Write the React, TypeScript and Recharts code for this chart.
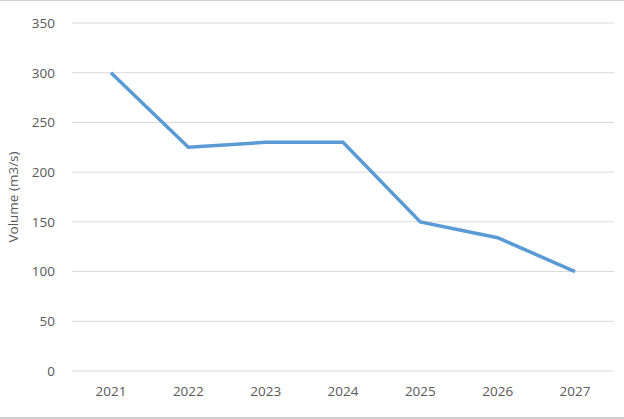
import React from "react";
import { LineChart, Line, XAxis, YAxis, CartesianGrid } from "recharts";

const years = ["2021", "2022", "2023", "2024", "2025", "2026", "2027"];
const volumes = [300, 225, 230, 230, 150, 134, 100];
const yTicks = [0, 50, 100, 150, 200, 250, 300, 350];

const data = years.map((y, i) => ({ year: y, volume: volumes[i] }));

const font = "'Open Sans', 'Noto Sans', sans-serif";
const textColor = "#595959";

export default function App() {
  return (
    <div
      style={{
        position: "absolute",
        left: 0,
        top: 0,
        width: 624,
        height: 419,
        background: "#fff",
        boxSizing: "border-box",
        borderTop: "1px solid #d0d0d0",
        borderBottom: "2px solid #d0d0d0",
      }}
    >
      <div style={{ position: "absolute", left: 0, top: -1 }}>
        <LineChart
          width={624}
          height={419}
          data={data}
          margin={{ top: 23, right: 10, bottom: 0, left: 0 }}
        >
          <CartesianGrid vertical={false} stroke="#d9d9d9" strokeWidth={1} />
          <XAxis
            dataKey="year"
            axisLine={false}
            tickLine={false}
            height={48}
            tickMargin={9}
            padding={{ left: 39, right: 39 }}
            tick={{ fill: textColor, fontSize: 13.5, fontFamily: font }}
            interval={0}
          />
          <YAxis
            domain={[0, 350]}
            ticks={yTicks}
            axisLine={false}
            tickLine={false}
            width={72}
            tickMargin={11}
            tick={{ fill: textColor, fontSize: 13.5, fontFamily: font }}
            label={{
              value: "Volume (m3/s)",
              angle: -90,
              position: "insideLeft",
              offset: 13,
              style: { fill: textColor, fontSize: 13.5, fontFamily: font, textAnchor: "middle" },
            }}
          />
          <Line
            type="linear"
            dataKey="volume"
            stroke="#5b9bd5"
            strokeWidth={3.5}
            dot={false}
            activeDot={false}
            isAnimationActive={false}
          />
        </LineChart>
      </div>
    </div>
  );
}
